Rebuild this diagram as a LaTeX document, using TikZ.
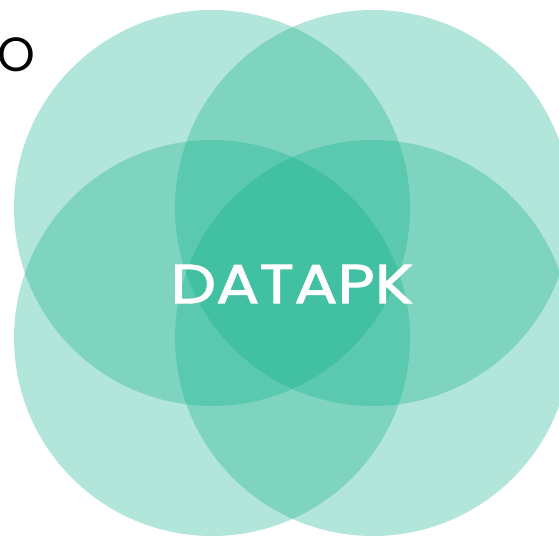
\documentclass[tikz,border=0pt]{standalone}
\usepackage{fontspec}
\setmainfont{Poppins}
\newfontfamily\widefont[FakeStretch=1.17,FakeBold=1.6]{Poppins}
\definecolor{venn}{RGB}{11,174,135}
\begin{document}
\begin{tikzpicture}[x=1pt,y=-1pt,
  petal/.style={fill=venn,fill opacity=0.31,draw=none},
  centretext/.style={text=white,inner sep=0pt,font=\widefont\fontsize{55}{60}\selectfont},
  cornertext/.style={text=black,inner sep=0pt,font=\fontsize{48}{52}\selectfont}]
\useasboundingbox (0,0) rectangle (559,535);
\begin{scope}
\clip (0,0) rectangle (559,535);
\fill[petal] (212,208) circle (198);
\fill[petal] (373,208) circle (198);
\fill[petal] (212,338) circle (198);
\fill[petal] (373,338) circle (198);
\end{scope}
\node[centretext] (t) at (292,284) {DATAPK};
\node[cornertext] (o) at (16,55) {O};
\end{tikzpicture}
\end{document}
